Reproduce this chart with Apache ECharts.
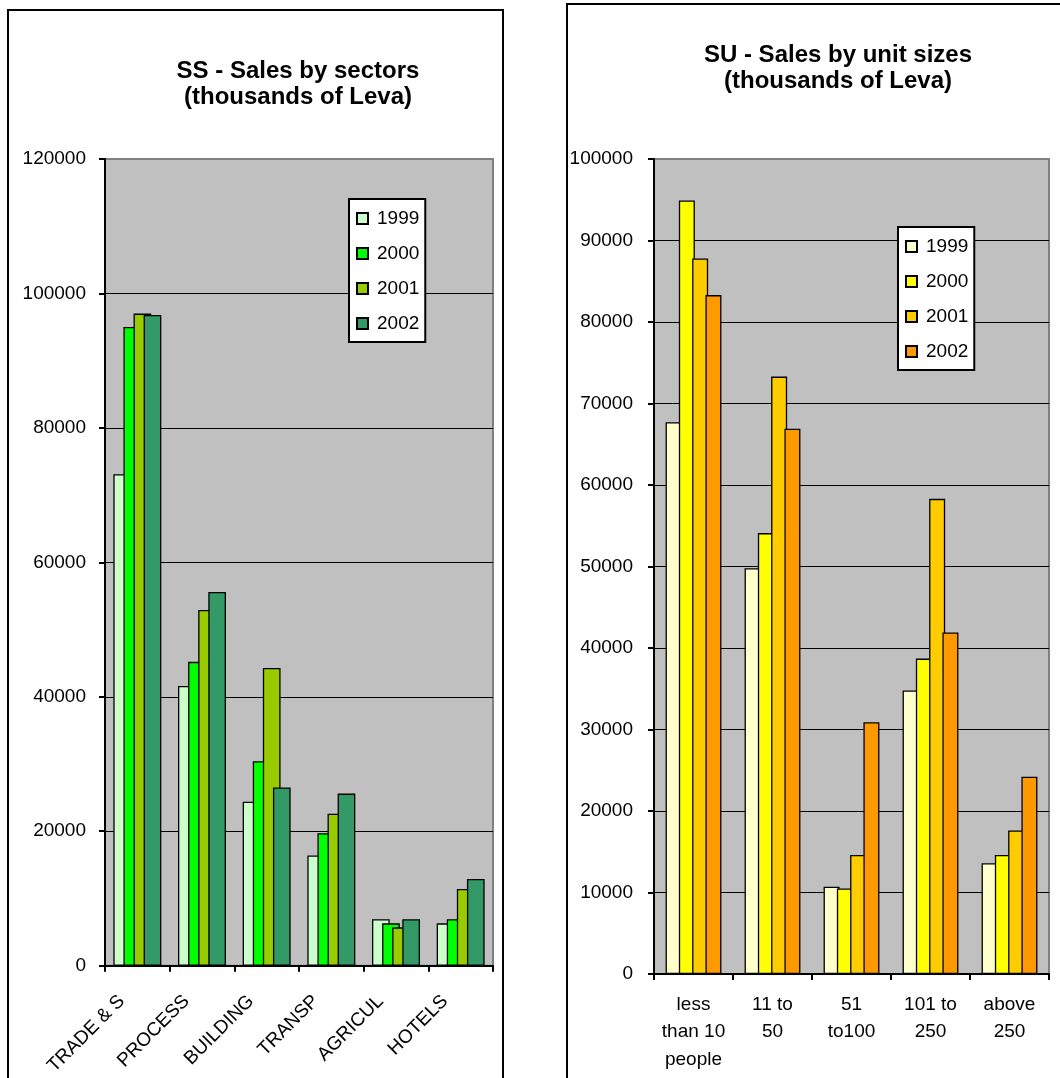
<!DOCTYPE html>
<html>
<head>
<meta charset="utf-8">
<title>Sales by sectors and by unit sizes</title>
<script src="https://cdn.jsdelivr.net/npm/echarts@6/dist/echarts.min.js"></script>
<style>
  html, body { margin: 0; padding: 0; background: #ffffff; }
  #page { position: relative; width: 1060px; height: 1078px; overflow: hidden; }
  .panel { position: absolute; border: 2px solid #000; box-sizing: border-box; }
  .chart { position: absolute; left: 0; top: 0; width: 1060px; height: 1078px; }
</style>
</head>
<body>
<div id="page">
  <div class="panel" style="left:7px; top:9px; width:497px; height:1100px;"></div>
  <div class="panel" style="left:566px; top:3px; width:520px; height:1100px;"></div>
  <div id="sectors" class="chart"></div>
  <div id="units" class="chart"></div>
</div>
<script>
// ---- data: sales by sectors (thousands of Leva) ----
const years = ['1999', '2000', '2001', '2002'];
const sectors = ['TRADE & S', 'PROCESS', 'BUILDING', 'TRANSP', 'AGRICUL', 'HOTELS'];
const sectors1999 = [73100, 41600, 24400, 16400, 6900, 6300];
const sectors2000 = [95000, 45200, 30400, 19700, 6300, 6900];
const sectors2001 = [97000, 52900, 44300, 22600, 5700, 11400];
const sectors2002 = [96800, 55600, 26500, 25600, 6900, 12900];
const sectorTicks = { min: 0, max: 120000, step: 20000 };

// ---- data: sales by unit sizes (thousands of Leva) ----
const unitSizes = ['less\nthan 10\npeople', '11 to\n50', '51\nto100', '101 to\n250', 'above\n250'];
const units1999 = [67700, 49800, 10700, 34800, 13600];
const units2000 = [94900, 54100, 10500, 38700, 14600];
const units2001 = [87800, 73300, 14600, 58300, 17600];
const units2002 = [83300, 66900, 30900, 41900, 24200];
const unitTicks = { min: 0, max: 100000, step: 10000 };

const greenPalette = ['#CCFFCC', '#00FF00', '#99CC00', '#339966'];
const orangePalette = ['#FFFFCC', '#FFFF00', '#FFCC00', '#FF9900'];

const FONT = 'Arial, "Liberation Sans", sans-serif';

function makeSeries(valueLists, palette, barWidth, barGap) {
  return valueLists.map((vals, i) => ({
    name: years[i],
    type: 'bar',
    data: vals,
    barWidth: barWidth,
    barGap: barGap,
    itemStyle: { color: palette[i], borderColor: '#000', borderWidth: 1.3 },
    emphasis: { disabled: true }
  }));
}

function valueAxis(ticks, labelMargin) {
  return {
    type: 'value',
    min: ticks.min,
    max: ticks.max,
    interval: ticks.step,
    axisLine: { show: true, lineStyle: { color: '#000', width: 2 } },
    axisTick: { show: true, inside: false, length: 6, lineStyle: { color: '#000', width: 2 } },
    axisLabel: {
      color: '#000', fontFamily: FONT, fontSize: 19, margin: labelMargin,
      formatter: (v) => String(v)
    },
    splitLine: { show: true, showMaxLine: false, lineStyle: { color: '#000', width: 1.2 } }
  };
}

function titleGraphic(cx, cy, text) {
  return {
    type: 'text',
    x: cx,
    y: cy,
    silent: true,
    style: {
      text: text,
      fill: '#000',
      font: 'bold 24px ' + FONT,
      textAlign: 'center',
      textVerticalAlign: 'middle',
      lineHeight: 26
    }
  };
}

function legendBox(left, top) {
  return {
    orient: 'vertical',
    left: left,
    top: top,
    data: years,
    icon: 'rect',
    itemWidth: 11,
    itemHeight: 11,
    itemGap: 16,
    padding: [10, 6, 9, 7],
    backgroundColor: '#ffffff',
    borderColor: '#000',
    borderWidth: 2,
    selectedMode: false,
    textStyle: { color: '#000', fontFamily: FONT, fontSize: 19, padding: [0, 0, 0, 4] }
  };
}

// ---- left chart: sales by sectors ----
const sectorsChart = echarts.init(document.getElementById('sectors'), null, { renderer: 'canvas' });
sectorsChart.setOption({
  animation: false,
  graphic: [titleGraphic(298, 84, 'SS - Sales by sectors\n(thousands of Leva)')],
  legend: legendBox(349, 199),
  grid: {
    left: 105, top: 159, width: 388, height: 809,
    show: true, backgroundColor: '#C0C0C0', borderColor: '#808080', borderWidth: 2
  },
  xAxis: {
    type: 'category',
    data: sectors,
    axisLine: { lineStyle: { color: '#000', width: 2 } },
    axisTick: { show: true, length: 6, lineStyle: { color: '#000', width: 2 } },
    axisLabel: {
      color: '#000', fontFamily: FONT, fontSize: 19, rotate: 45,
      interval: 0, margin: 17, padding: [0, 22, 0, 0]
    }
  },
  yAxis: valueAxis(sectorTicks, 19),
  series: makeSeries([sectors1999, sectors2000, sectors2001, sectors2002], greenPalette, 17.7, '-43%')
});

// ---- right chart: sales by unit sizes ----
const unitsChart = echarts.init(document.getElementById('units'), null, { renderer: 'canvas' });
unitsChart.setOption({
  animation: false,
  graphic: [titleGraphic(838, 68, 'SU - Sales by unit sizes\n(thousands of Leva)')],
  legend: legendBox(898, 227),
  grid: {
    left: 654, top: 159, width: 395, height: 815,
    show: true, backgroundColor: '#C0C0C0', borderColor: '#808080', borderWidth: 2
  },
  xAxis: {
    type: 'category',
    data: unitSizes,
    axisLine: { lineStyle: { color: '#000', width: 2 } },
    axisTick: { show: true, length: 6, lineStyle: { color: '#000', width: 2 } },
    axisLabel: {
      color: '#000', fontFamily: FONT, fontSize: 19, lineHeight: 27.5,
      interval: 0, margin: 17
    }
  },
  yAxis: valueAxis(unitTicks, 21),
  series: makeSeries([units1999, units2000, units2001, units2002], orangePalette, 16, '-17%')
});
</script>
</body>
</html>
